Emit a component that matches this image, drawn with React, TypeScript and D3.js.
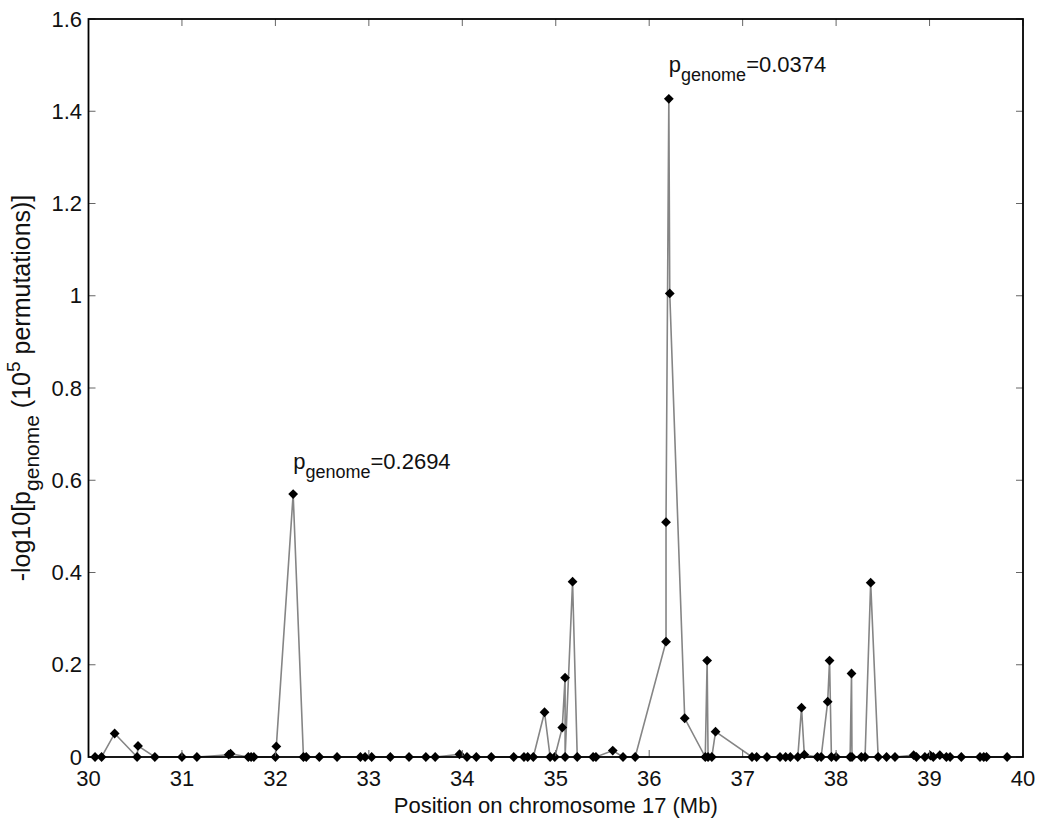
import React from 'react';
import * as d3 from 'd3';

// Marker positions on chromosome 17 (Mb) and -log10(p_genome) values, in plotting order
const positionsMb = [
  30.07, 30.14, 30.28, 30.52, 30.53, 30.71, 31.0, 31.16, 31.5, 31.52,
  31.71, 31.74, 31.77, 32.0, 32.01, 32.19, 32.3, 32.33, 32.47, 32.66,
  32.91, 32.96, 33.03, 33.23, 33.43, 33.61, 33.71, 33.97, 34.05, 34.15,
  34.31, 34.55, 34.66, 34.7, 34.76, 34.88, 34.94, 34.99, 35.07, 35.1,
  35.1, 35.18, 35.23, 35.4, 35.43, 35.61, 35.72, 35.85, 36.18, 36.18,
  36.21, 36.22, 36.38, 36.6, 36.62, 36.63, 36.67, 36.71, 37.1, 37.15,
  37.26, 37.4, 37.46, 37.51, 37.59, 37.63, 37.66, 37.8, 37.84, 37.91,
  37.93, 37.95, 38.0, 38.15, 38.165, 38.17, 38.27, 38.31, 38.37, 38.45,
  38.54, 38.63, 38.83, 38.86, 38.95, 39.01, 39.04, 39.11, 39.18, 39.22,
  39.34, 39.54, 39.58, 39.61, 39.83,
];
const negLogP = [
  0, 0, 0.051, 0, 0.024, 0, 0, 0, 0.005, 0.007,
  0, 0, 0, 0, 0.023, 0.57, 0, 0, 0, 0,
  0, 0, 0, 0, 0, 0, 0, 0.006, 0, 0,
  0, 0, 0, 0, 0, 0.097, 0, 0, 0.064, 0.172,
  0, 0.38, 0, 0, 0, 0.014, 0, 0, 0.25, 0.509,
  1.427, 1.005, 0.084, 0, 0.209, 0, 0, 0.055, 0, 0,
  0, 0, 0, 0, 0, 0.107, 0.005, 0, 0, 0.12,
  0.209, 0, 0, 0, 0.181, 0, 0, 0, 0.378, 0,
  0, 0, 0.004, 0, 0, 0.003, 0, 0.004, 0, 0,
  0, 0, 0, 0, 0,
];

const xTicks = [30, 31, 32, 33, 34, 35, 36, 37, 38, 39, 40];
const yTicks = [0, 0.2, 0.4, 0.6, 0.8, 1.0, 1.2, 1.4, 1.6];
const yTickLabels = ['0', '0.2', '0.4', '0.6', '0.8', '1', '1.2', '1.4', '1.6'];

// Annotations
const annotX = [32.19, 36.21];
const annotY = [0.625, 1.486];
const annotP = ['0.2694', '0.0374'];

const FONT = "'Liberation Sans', Arial, Helvetica, sans-serif";

export default function App() {
  const W = 1050;
  const H = 823;
  const x = d3.scaleLinear().domain([30, 40]).range([88.5, 1023]);
  const y = d3.scaleLinear().domain([0, 1.6]).range([757, 19]);
  const [x0, x1] = x.range();
  const [y0, y1] = y.range();

  const pts = positionsMb.map((p, i) => [p, negLogP[i]] as [number, number]);
  const line = d3
    .line<[number, number]>()
    .x((d) => x(d[0]))
    .y((d) => y(d[1]));

  const diamond = d3.symbol().type(d3.symbolSquare).size(48)();
  const tickLen = 7;
  const fs = 22;

  return (
    <svg
      width={W}
      height={H}
      style={{ position: 'absolute', left: 0, top: 0, background: '#fff' }}
      fontFamily={FONT}
    >
      <rect x={0} y={0} width={W} height={H} fill="#fff" />
      {/* data line */}
      <path d={line(pts) || ''} fill="none" stroke="#858585" strokeWidth={1.6} />
      {/* markers */}
      {pts.map((d, i) => (
        <path
          key={i}
          d={diamond}
          transform={`translate(${x(d[0])},${y(d[1])}) rotate(45)`}
          fill="#000"
        />
      ))}
      {/* ticks */}
      {xTicks.map((t) => (
        <g key={'xt' + t}>
          <line x1={x(t)} x2={x(t)} y1={y0} y2={y0 - tickLen} stroke="#666" strokeWidth={1} />
          <line x1={x(t)} x2={x(t)} y1={y1} y2={y1 + tickLen} stroke="#666" strokeWidth={1} />
          <text x={x(t)} y={786} textAnchor="middle" fontSize={fs} fill="#111">
            {t}
          </text>
        </g>
      ))}
      {yTicks.map((t, i) => (
        <g key={'yt' + t}>
          <line x1={x0} x2={x0 + tickLen} y1={y(t)} y2={y(t)} stroke="#666" strokeWidth={1} />
          <line x1={x1} x2={x1 - tickLen} y1={y(t)} y2={y(t)} stroke="#666" strokeWidth={1} />
          <text x={82} y={y(t)} dy="0.35em" textAnchor="end" fontSize={fs} fill="#111">
            {yTickLabels[i]}
          </text>
        </g>
      ))}
      {/* box */}
      <rect
        x={x0}
        y={y1}
        width={x1 - x0}
        height={y0 - y1}
        fill="none"
        stroke="#000"
        strokeWidth={1.8}
      />
      {/* annotations */}
      {annotX.map((ax, i) => (
        <text key={'an' + i} x={x(ax)} y={y(annotY[i])} fontSize={fs} fill="#111">
          p
          <tspan fontSize={18} dy={9}>
            genome
          </tspan>
          <tspan dy={-9}>={annotP[i]}</tspan>
        </text>
      ))}
      {/* axis labels */}
      <text x={(x0 + x1) / 2} y={813} textAnchor="middle" fontSize={fs} fill="#111">
        Position on chromosome 17 (Mb)
      </text>
      <text
        transform={`translate(30,${(y0 + y1) / 2}) rotate(-90)`}
        textAnchor="middle"
        fontSize={25}
        fill="#111"
      >
        -log10[p
        <tspan fontSize={21} dy={9}>
          genome
        </tspan>
        <tspan dy={-9}> (10</tspan>
        <tspan fontSize={19} dy={-10}>
          5
        </tspan>
        <tspan dy={10}> permutations)]</tspan>
      </text>
    </svg>
  );
}
